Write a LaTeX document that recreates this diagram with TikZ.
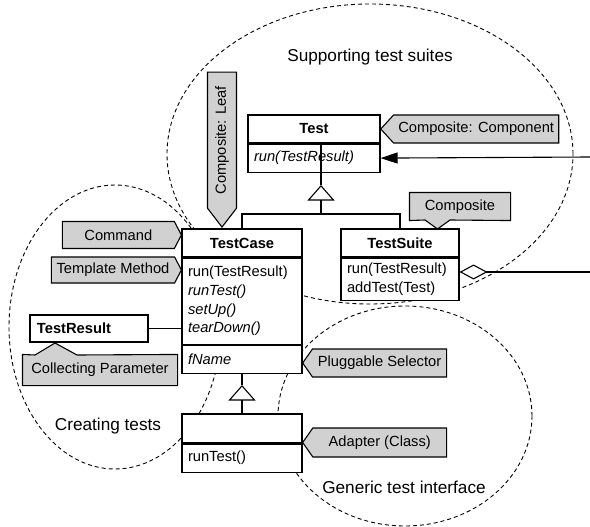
\documentclass[tikz,border=0pt]{standalone}
\usepackage{fontspec}
\setmainfont{Liberation Sans}
\usepackage{tikz}
\usetikzlibrary{arrows.meta}
\usetikzlibrary{positioning}
\usetikzlibrary{shapes.symbols}
\newcommand{\classfont}{\fontsize{14.7}{18.7}\selectfont}
\newcommand{\regionfont}{\fontsize{17.2}{20}\selectfont}
\tikzset{
	classline/.style={line width=1.1pt},
	clsbox/.style={draw, fill=white, classline, inner xsep=6pt, inner ysep=0pt, font=\classfont},
	clsname/.style={clsbox, minimum height=28pt, font=\classfont\bfseries},
	clsops/.style={clsbox, align=left, minimum height=28pt},
	notebox/.style={fill=black!18, classline, inner sep=0pt, font=\classfont},
	notesig/.style={notebox, draw, signal},
	inherit/.style={classline, -{Triangle[open, length=15.5pt, width=27pt]}},
	regionline/.style={line width=0.9pt, dash pattern=on 4pt off 3pt},
	regionlabel/.style={font=\regionfont, inner sep=0pt}
}
\begin{document}
\begin{tikzpicture}[x=1pt, y=-1pt]
	\useasboundingbox (0,0) rectangle (590,527);
	\draw[regionline] (370,154) ellipse [x radius=203pt, y radius=150pt];
	\draw[regionline] (115,327) ellipse [x radius=106pt, y radius=142pt];
	\draw[regionline] (405,416) ellipse [x radius=127pt, y radius=110pt];
	\node[regionlabel] (suites) at (370,57) {Supporting test suites};
	\node[regionlabel] (creating) at (108,426) {Creating tests};
	\node[regionlabel] (generic) at (404,487) {Generic test interface};

	\node[clsname, minimum width=132pt] (test) at (314,129) {Test};
	\node[clsops, text width=120pt, below=0pt of test] (testops) {\textit{run(TestResult)}};
	\node[clsname, minimum width=120pt] (tcase) at (242,243) {TestCase};
	\node[clsops, text width=108pt, minimum height=86pt, below=0pt of tcase] (tcaseops) {run(TestResult)\\\textit{runTest()}\\\textit{setUp()}\\\textit{tearDown()}};
	\node[clsops, text width=108pt, below=0pt of tcaseops] (tcaseattr) {\textit{fName}};
	\node[clsname, minimum width=118pt] (tsuite) at (400,243) {TestSuite};
	\node[clsops, text width=106pt, minimum height=42pt, below=0pt of tsuite] (tsuiteops) {run(TestResult)\\addTest(Test)};
	\node[clsname, minimum width=120pt, minimum height=29pt] (adapted) at (242,428.5) {};
	\node[clsops, text width=108pt, below=0pt of adapted] (adaptedops) {runTest()};
	\node[clsname, text width=104pt, inner xsep=7pt, minimum height=27pt, align=left] (tresult) at (89,328.5) {TestResult};

	\coordinate (fork) at (321,214);
	\coordinate (forktip) at (321,185);
	\coordinate (gen) at (242,385);
	\coordinate (assocend) at (590,157);
	\coordinate (aggrend) at (590,272);
	\draw[classline] (test.south -| fork) -- (forktip);
	\draw[inherit] (fork) -- (forktip);
	\draw[classline] (tcase.north) |- (fork) -| (tsuite.north);
	\draw[classline] (tcaseattr.south) -- (gen);
	\draw[inherit] (adapted.north) -- (gen);
	\draw[classline, -{Triangle[length=17pt, width=11pt]}] (assocend) -- (testops.east);
	\draw[classline, {Diamond[open, length=28pt, width=15pt]}-] (tsuiteops.east |- aggrend) -- (aggrend);
	\draw[classline] (tresult.east) -- (tresult.east -| tcaseops.west);

	\node[notesig, signal to=east, signal pointer angle=125, minimum width=119pt, minimum height=27pt, anchor=east] (command) at (182,235) {Command};
	\node[notesig, signal to=east, signal pointer angle=125, minimum width=130pt, minimum height=26pt, anchor=east] (template) at (182,270) {Template Method};
	\node[notesig, signal to=west, signal pointer angle=95, minimum width=178pt, minimum height=28pt, anchor=west] (component) at (380,129) {Composite: Component};
	\node[notesig, signal to=west, signal pointer angle=110, minimum width=144pt, minimum height=28pt, anchor=west] (pluggable) at (302,363) {Pluggable Selector};
	\node[notesig, signal to=west, signal pointer angle=110, minimum width=144pt, minimum height=29pt, anchor=west] (adapter) at (302,442.5) {Adapter (Class)};
	\node[notesig, rotate=90, signal to=west, signal pointer angle=75, minimum width=155pt, minimum height=29pt, anchor=west] (leaf) at (222,228) {Composite: Leaf};

	\node[notebox, minimum width=100pt, minimum height=27pt] (composite) at (460,206.5) {Composite};
	\fill[black!18] (425,220) -- (437.5,229) -- (450,220) -- cycle;
	\draw[classline] (composite.south west) -- (composite.north west) -- (composite.north east) -- (composite.south east) -- (450,220) -- (437.5,229) -- (425,220) -- cycle;
	\node[notebox, minimum width=154pt, minimum height=30pt] (collecting) at (100,370) {Collecting Parameter};
	\fill[black!18] (35,355) -- (55,343) -- (77,355) -- cycle;
	\draw[classline] (collecting.north west) -- (35,355) -- (55,343) -- (77,355) -- (collecting.north east) -- (collecting.south east) -- (collecting.south west) -- cycle;
\end{tikzpicture}
\end{document}
